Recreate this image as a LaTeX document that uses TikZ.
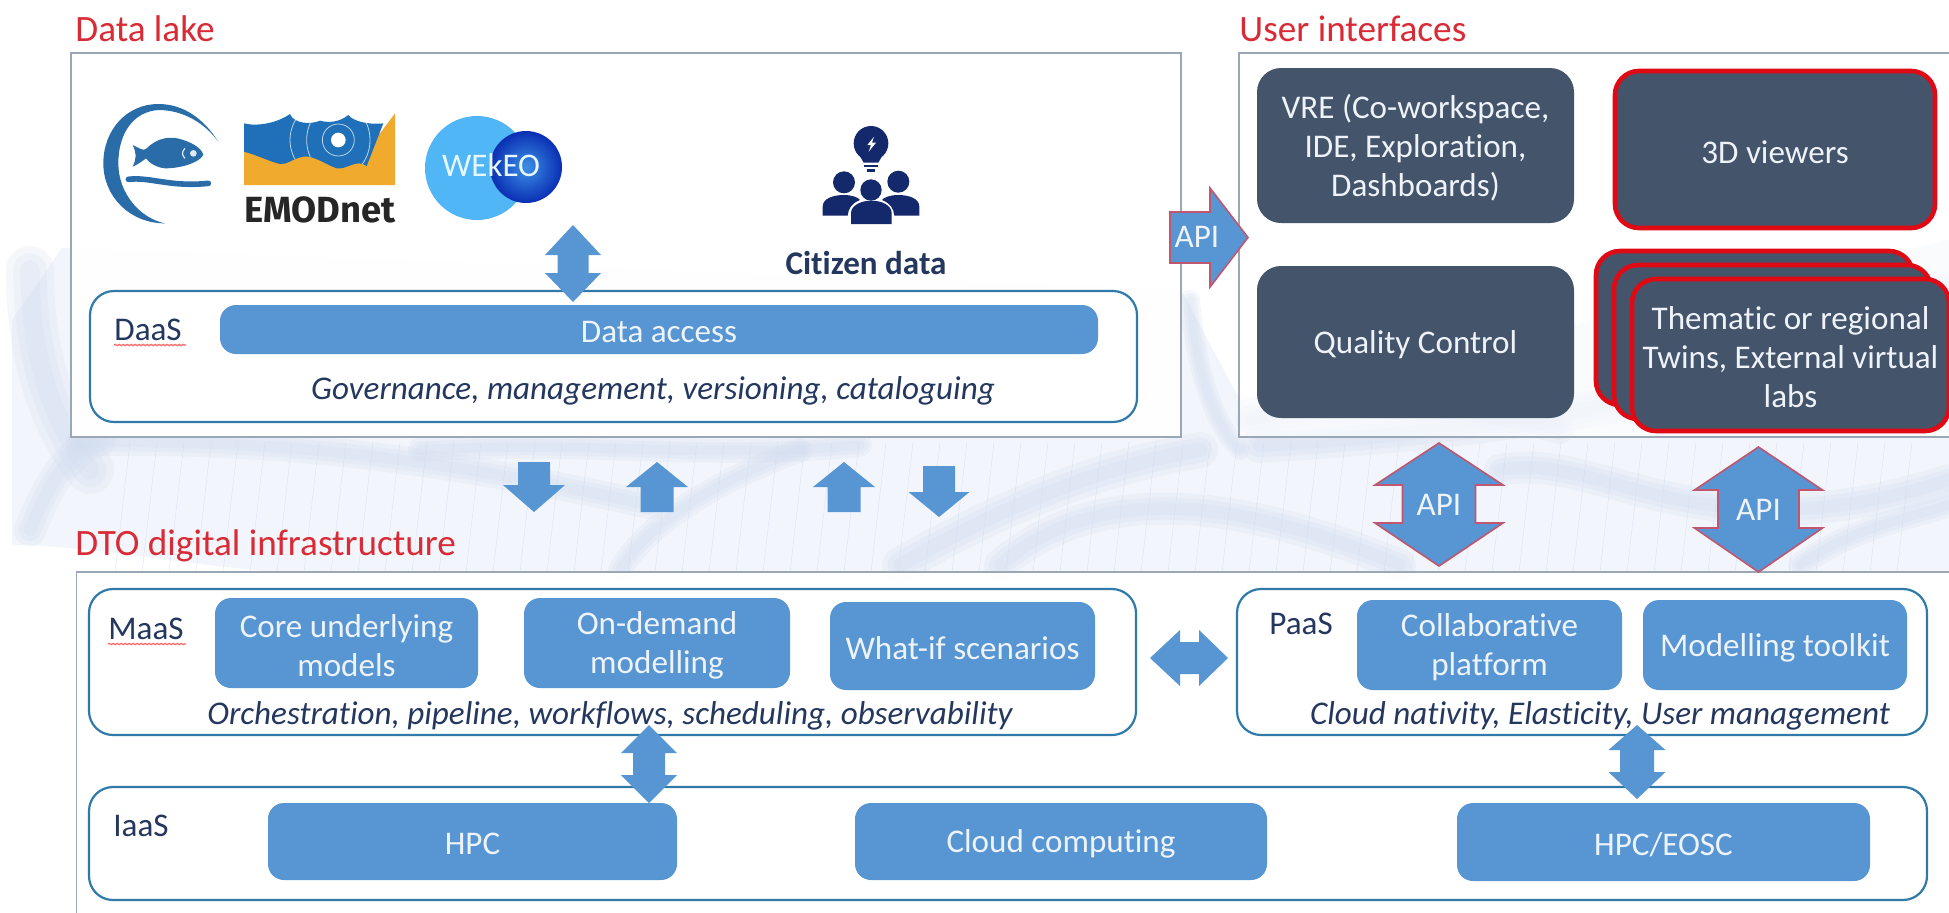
\documentclass[tikz,border=0pt]{standalone}
\usepackage{fontspec}
\setmainfont{Carlito}[Ligatures=NoCommon]
\newfontfamily\emodfont{Fira Sans}
\usetikzlibrary{decorations.pathmorphing}
\definecolor{cblue}{HTML}{5796D2}
\definecolor{cdark}{HTML}{44546A}
\definecolor{cred}{HTML}{E00A14}
\definecolor{ctitle}{HTML}{D92B35}
\definecolor{cline}{HTML}{2F7AA8}
\definecolor{cpanel}{HTML}{9AA8B5}
\definecolor{cnavy}{HTML}{24375F}
\definecolor{ctext}{HTML}{EEF3FA}
\definecolor{capi}{HTML}{C0566F}
\definecolor{cfish}{HTML}{2A6CA8}
\definecolor{cemob}{HTML}{1F70B8}
\definecolor{cemoo}{HTML}{F0AB2E}
\definecolor{cicon}{HTML}{14296B}
\definecolor{cwa}{HTML}{F2F5FB}
\definecolor{cwb}{HTML}{CFDBEF}
\definecolor{cweka}{HTML}{50B6F5}
\definecolor{cwekb}{HTML}{3C8FE6}
\definecolor{cwekc}{HTML}{0A2FB4}
\tikzset{
  pxb/.style={rectangle,inner sep=0pt,outer sep=0pt,align=center},
  panel/.style={pxb,draw=cpanel,line width=0.7pt,fill=white},
  tier/.style={pxb,draw=cline,line width=1.1pt,rounded corners=12pt,fill=white},
  bluebox/.style={pxb,fill=cblue,rounded corners=8pt},
  darkbox/.style={pxb,fill=cdark,rounded corners=12pt},
  redbox/.style={pxb,fill=cdark,draw=cred,line width=2.3pt,rounded corners=12pt},
  boxtext/.style={pxb,text=ctext,font=\bodyfont},
  ttl/.style={anchor=base west,inner sep=0pt,text=ctitle,font=\titlefont},
  lbl/.style={anchor=base west,inner sep=0pt,text=cnavy,font=\bodyfont},
  ital/.style={anchor=base,inner sep=0pt,text=cnavy,font=\bodyfont\itshape},
  blockfill/.style={fill=cblue,line join=miter},
  apiline/.style={draw=capi,line width=0.8pt},
  apitext/.style={inner sep=0pt,text=ctext,font=\bodyfont},
  squig/.style={draw=red!60,line width=0.6pt,decorate,decoration={snake,amplitude=0.3pt,segment length=2pt}},
}
\newcommand\bodyfont{\fontsize{16.55}{19.6}\selectfont}
\newcommand\titlefont{\fontsize{18.6}{21}\selectfont}
% style name x1 y1 x2 y2
\newcommand\pxbox[6]{\node[#1,minimum width={(#5-#3)*0.5pt},minimum height={(#6-#4)*0.5pt}] (#2) at ({(#3+#5)/2},{(#4+#6)/2}) {};}
% box with text: style name x1 y1 x2 y2 text
\newcommand\txbox[7]{\pxbox{#1}{#2}{#3}{#4}{#5}{#6}\node[boxtext] (#2-text) at ([yshift=-1.2pt]#2.center) {#7};}
% soft streak of the background
\newcommand\soft[2]{\foreach \w in {1,0.7,0.4} {\draw[cwb,opacity=.2,line width=\w*#1 pt,line cap=round] #2;}}
% vertical double block arrow: style name cx ytop ybot halfhead halfshaft ybase1 ybase2 ; node follows
\newcommand\vdbl[9]{\path[blockfill,#1] (#3,#4) -- ({#3+#6},#8) -- ({#3+#7},#8) -- ({#3+#7},#9) -- ({#3+#6},#9) -- (#3,#5) -- ({#3-#6},#9) -- ({#3-#7},#9) -- ({#3-#7},#8) -- ({#3-#6},#8) -- cycle;
  \node[apitext] (#2) at (#3,{(#4+#5)/2})}
% horizontal double block arrow: name xleft xright cy halfhead halfshaft xbase1 xbase2
\newcommand\hdbl[8]{\path[blockfill] (#2,#4) -- (#7,{#4-#5}) -- (#7,{#4-#6}) -- (#8,{#4-#6}) -- (#8,{#4-#5}) -- (#3,#4) -- (#8,{#4+#5}) -- (#8,{#4+#6}) -- (#7,{#4+#6}) -- (#7,{#4+#5}) -- cycle;
  \node[apitext] (#1) at ({(#2+#3)/2},#4)}
% vertical single block arrow: name cx ytip ytail halfhead halfshaft ybase
\newcommand\vone[7]{\path[blockfill] (#2,#3) -- ({#2+#5},#7) -- ({#2+#6},#7) -- ({#2+#6},#4) -- ({#2-#6},#4) -- ({#2-#6},#7) -- ({#2-#5},#7) -- cycle;
  \node[apitext] (#1) at (#2,{(#3+#4)/2}) {};}
\begin{document}
\begin{tikzpicture}[x=0.5pt,y=-0.5pt]
\useasboundingbox (0,0) rectangle (1949,912);
\clip (0,0) rectangle (1949,912);
\fill[white] (0,0) rectangle (1949,912);
% background wave image
\fill[cwa] (12,320) -- (62,248) -- (1181,290) -- (1240,400) -- (1949,240) -- (1949,575) -- (330,575) .. controls (200,570) and (100,545) .. (12,545) -- cycle;
\soft{24}{(30,270) .. controls (30,350) and (50,420) .. (90,470)}
\soft{16}{(30,530) .. controls (50,480) and (70,450) .. (100,440)}
\soft{14}{(80,442) .. controls (250,440) and (400,450) .. (650,505)}
\soft{12}{(420,450) .. controls (600,440) and (700,460) .. (860,445)}
\soft{12}{(620,570) .. controls (650,520) and (720,480) .. (800,450)}
\soft{18}{(900,565) .. controls (980,520) and (1080,470) .. (1200,450)}
\soft{16}{(1000,565) .. controls (1100,480) and (1240,500) .. (1400,565)}
\soft{10}{(1190,300) .. controls (1195,360) and (1210,420) .. (1240,450)}
\soft{16}{(1500,470) .. controls (1600,450) and (1700,560) .. (1949,480)}
\soft{18}{(1260,445) .. controls (1500,430) and (1750,400) .. (1949,290)}
\soft{14}{(1250,420) .. controls (1350,400) and (1450,400) .. (1560,430)}
\soft{12}{(1800,565) .. controls (1850,530) and (1900,520) .. (1949,505)}
\foreach \k in {0,...,66} {
  \draw[cwb,line width=0.2pt,opacity=.7] ({130+\k*27},442) -- ({115+\k*27},572);
}
% panels
\pxbox{panel,fill opacity=.97}{lake}{71}{53}{1181}{437}
\pxbox{panel,fill opacity=.6}{ui}{1239}{53}{1960}{437}
\pxbox{panel,fill opacity=.97}{dto}{76.5}{572}{1960}{925}
% titles
\node[ttl] (tlake) at (75,41) {Data lake};
\node[ttl] (tui) at (1239,41) {User interfaces};
\node[ttl] (tdto) at (75,555) {DTO digital infrastructure};
% tiers
\pxbox{tier}{daas}{90}{291}{1137}{422}
\pxbox{tier}{maas}{89}{589}{1136}{735}
\pxbox{tier}{paas}{1237}{589}{1927}{735}
\pxbox{tier}{iaas}{89}{787}{1927}{900}
% fish logo
\begin{scope}[shift={(90,90)},x=0.16667pt,y=-0.16667pt]
\fill[cfish] (385,155) .. controls (340,85) and (280,42) .. (205,42) .. controls (110,42) and (40,120) .. (40,220) .. controls (40,320) and (120,400) .. (225,400) .. controls (150,385) and (85,310) .. (85,220) .. controls (85,130) and (130,65) .. (205,60) .. controls (280,60) and (345,100) .. (385,155) -- cycle;
\fill[cfish] (128,165) .. controls (150,175) and (160,185) .. (170,175) .. controls (200,145) and (240,135) .. (280,150) .. controls (310,160) and (335,175) .. (340,195) .. controls (325,220) and (270,235) .. (225,235) .. controls (195,232) and (175,215) .. (168,205) .. controls (155,215) and (140,225) .. (128,230) .. controls (140,205) and (140,190) .. (128,165) -- cycle;
\fill[white!85!cfish] (310,190) circle[radius=10];
\draw[white!85!cfish,line width=0.6pt] (285,175) .. controls (275,185) and (275,195) .. (285,205);
\draw[cfish,line width=2.8pt,line cap=round] (115,268) .. controls (180,260) and (240,292) .. (355,280);
% EMODnet logo
\fill[cemoo] (462,120) -- (462,285) -- (915,285) -- (915,70) -- (870,130) -- cycle;
\begin{scope}
\clip (462,100) .. controls (500,110) and (560,100) .. (600,72) .. controls (610,100) and (660,105) .. (690,92) .. controls (720,100) and (750,95) .. (775,75) .. controls (790,95) and (840,105) .. (880,100) -- (830,228) .. controls (800,205) and (770,240) .. (740,235) .. controls (710,225) and (670,195) .. (640,200) .. controls (610,205) and (590,225) .. (570,222) .. controls (540,215) and (500,195) .. (462,185) -- cycle;
\fill[cemob] (450,60) rectangle (900,240);
\draw[white!70!cemob,line width=0.4pt] (745,150) circle[radius=48];
\draw[white!70!cemob,line width=0.4pt] (745,150) ellipse[x radius=95,y radius=110];
\draw[white!70!cemob,line width=0.4pt] (745,150) ellipse[x radius=145,y radius=130];
\end{scope}
\fill[white] (745,150) circle[radius=22];
\end{scope}
\node[anchor=base west,inner sep=0pt,text=black!85,font=\emodfont\bfseries\fontsize{18.2}{20}\selectfont] (emod) at (244,222) {EMODnet};
% WEkEO
\fill[cweka] (477,168) circle[radius=52];
\shade[inner color=cwekb,outer color=cwekc] (526,167) circle[radius=36];
\node[inner sep=0pt,text=white!90!cyan,font=\fontsize{16.5}{18}\selectfont] (wekeo) at (491,165) {WEkEO};
% citizen icon
\begin{scope}[shift={(770,110)},x=0.16667pt,y=-0.16667pt]
\fill[cicon] (303,100) circle[radius=52];
\fill[cicon] (265,130) -- (341,130) -- (325,158) -- (281,158) -- cycle;
\draw[cicon,line width=1.4pt] (282,168) -- (324,168);
\draw[cicon,line width=1.2pt] (290,182) -- (316,182);
\fill[white] (312,80) -- (292,105) -- (303,105) -- (296,125) -- (318,98) -- (306,98) -- cycle;
\fill[cicon] (222,217) circle[radius=33];
\fill[cicon] (385,215) circle[radius=33];
\fill[cicon] (303,240) circle[radius=32];
\fill[cicon] (158,317) -- (158,290) .. controls (158,265) and (190,255) .. (222,255) .. controls (245,255) and (265,262) .. (270,270) .. controls (245,280) and (235,295) .. (233,317) -- cycle;
\fill[cicon] (448,317) -- (448,290) .. controls (448,265) and (416,255) .. (384,255) .. controls (361,255) and (341,262) .. (336,270) .. controls (361,280) and (371,295) .. (373,317) -- cycle;
\fill[cicon] (243,342) -- (243,310) .. controls (243,285) and (275,272) .. (303,272) .. controls (335,272) and (365,285) .. (365,310) -- (365,342) -- cycle;
\end{scope}
\node[inner sep=0pt,anchor=base,text=cnavy,font=\bodyfont\bfseries] (citizen) at (866,274) {Citizen data};
% Data lake content
\txbox{bluebox}{access}{220}{305}{1098}{354}{Data access}
\node[lbl] (ldaas) at (114,340) {DaaS};
\draw[squig] (114,345) -- (186,345);
\node[ital] (gov) at (653,399) {Governance, management, versioning, cataloguing};
% user interfaces
\txbox{darkbox}{vre}{1257}{68}{1574}{223}{VRE (Co-workspace,\\IDE, Exploration,\\Dashboards)}
\txbox{redbox}{viewers}{1615}{71}{1935}{228}{3D viewers}
\txbox{darkbox}{qc}{1257}{266}{1574}{418}{Quality Control}
\pxbox{redbox}{st1}{1596}{251}{1913}{405}
\pxbox{redbox}{st2}{1614}{265}{1931}{419}
\txbox{redbox}{st3}{1632}{279}{1949}{431}{Thematic or regional\\Twins, External virtual\\labs}
% MaaS
\node[lbl] (lmaas) at (108,639) {MaaS};
\draw[squig] (108,644) -- (186,644);
\txbox{bluebox}{core}{215}{598}{478}{688}{Core underlying\\models}
\txbox{bluebox}{ondemand}{524}{598}{790}{688}{On-demand\\modelling}
\txbox{bluebox}{whatif}{830}{602}{1095}{690}{What-if scenarios}
\node[ital] (orch) at (610,724) {Orchestration, pipeline, workflows, scheduling, observability};
% PaaS
\node[lbl] (lpaas) at (1269,634) {PaaS};
\txbox{bluebox}{collab}{1357}{600}{1622}{690}{Collaborative\\platform}
\txbox{bluebox}{toolkit}{1643}{600}{1907}{690}{Modelling toolkit}
\node[ital] (cloudn) at (1600,724) {Cloud nativity, Elasticity, User management};
% IaaS
\node[lbl] (liaas) at (113,836) {IaaS};
\txbox{bluebox}{hpc}{268}{803}{677}{880}{HPC}
\txbox{bluebox}{cloud}{855}{803}{1267}{880}{Cloud computing}
\txbox{bluebox}{eosc}{1457}{803}{1870}{881}{HPC/EOSC}
% block arrows
\vdbl{}{a1}{573}{225}{302}{28}{15.5}{255}{273} {};
\vdbl{}{a2}{649}{725}{803}{28}{16}{753}{775} {};
\vdbl{}{a3}{1637}{725}{799}{28.5}{17}{750}{772} {};
\hdbl{a4}{1150}{1228}{658}{28}{16}{1180}{1199} {};
\vdbl{apiline}{api1}{1439}{443}{566}{64}{36.5}{485}{523} {API};
\vdbl{apiline}{api2}{1758.5}{447}{572}{64}{40.5}{490}{528} {API};
\vone{d1}{534}{512}{462}{31}{16}{485}
\vone{u1}{657}{462}{512}{31}{16.5}{487}
\vone{u2}{844}{462}{512}{31}{16.5}{487}
\vone{d2}{939}{517}{466}{30.5}{16}{492}
\path[blockfill,apiline] (1248,237.5) -- (1210,287) -- (1210,263) -- (1170,263) -- (1170,212) -- (1210,212) -- (1210,188) -- cycle;
\node[apitext] (api0) at (1197,237) {API};
\end{tikzpicture}
\end{document}
